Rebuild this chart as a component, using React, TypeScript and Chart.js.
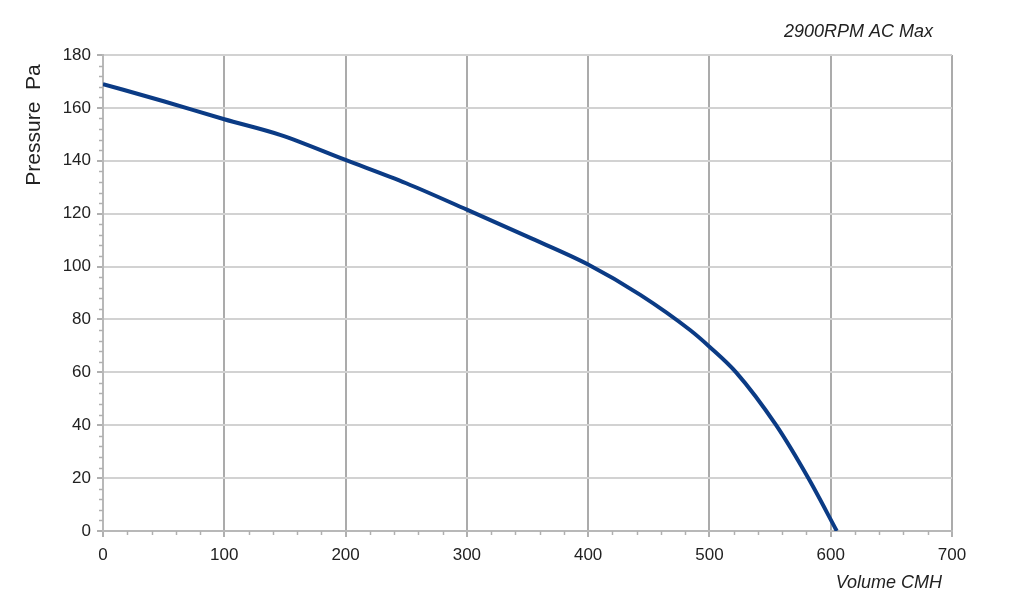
import React, { useEffect, useRef } from "react";
import { Chart, registerables } from "chart.js";

Chart.register(...registerables);

// ---- Data ----
const volumeCMH = [0, 50, 100, 146, 200, 250, 300, 350, 400, 443, 484, 500, 522, 555, 581.5, 605];
const pressurePa = [169, 162.5, 155.7, 149.8, 140.3, 131.5, 121.5, 111.3, 100.8, 89.3, 76, 69.7, 60, 40, 20, 0];
const xTickValues = [0, 100, 200, 300, 400, 500, 600, 700];
const yTickValues = [0, 20, 40, 60, 80, 100, 120, 140, 160, 180];
const chartTitle = "2900RPM AC Max";
const xAxisTitle = "Volume CMH";
const yAxisTitle = "Pressure  Pa";

const FONT = "'Liberation Sans', Arial, sans-serif";

const decorPlugin = {
  id: "decor",
  afterDraw(chart: any) {
    const { ctx, chartArea, scales } = chart;
    const xs = scales.x;
    const ys = scales.y;
    ctx.save();
    // minor ticks
    ctx.strokeStyle = "#b0b0b0";
    ctx.lineWidth = 1.5;
    const xMin = xTickValues[0];
    const xMax = xTickValues[xTickValues.length - 1];
    const xStep = (xTickValues[1] - xTickValues[0]) / 5;
    for (let v = xMin; v <= xMax + 1e-6; v += xStep) {
      if (xTickValues.includes(Math.round(v))) continue;
      const px = Math.round(xs.getPixelForValue(v)) + 0.5;
      ctx.beginPath();
      ctx.moveTo(px, chartArea.bottom);
      ctx.lineTo(px, chartArea.bottom + 4);
      ctx.stroke();
    }
    const yMin = yTickValues[0];
    const yMax = yTickValues[yTickValues.length - 1];
    const yStep = (yTickValues[1] - yTickValues[0]) / 5;
    for (let v = yMin; v <= yMax + 1e-6; v += yStep) {
      if (yTickValues.includes(Math.round(v))) continue;
      const py = Math.round(ys.getPixelForValue(v)) + 0.5;
      ctx.beginPath();
      ctx.moveTo(chartArea.left - 4, py);
      ctx.lineTo(chartArea.left, py);
      ctx.stroke();
    }
    // titles
    ctx.fillStyle = "#222";
    ctx.font = `italic 18px ${FONT}`;
    ctx.textAlign = "right";
    ctx.textBaseline = "middle";
    ctx.fillText(chartTitle, chartArea.right - 19, chartArea.top - 23);
    ctx.fillText(xAxisTitle, chartArea.right - 10, chartArea.bottom + 52);
    ctx.translate(34, chartArea.top + 70);
    ctx.rotate(-Math.PI / 2);
    ctx.textAlign = "center";
    ctx.font = `21px ${FONT}`;
    ctx.fillText(yAxisTitle, 0, 0);
    ctx.restore();
  },
};

export default function App() {
  const canvasRef = useRef<HTMLCanvasElement | null>(null);

  useEffect(() => {
    if (!canvasRef.current) return;
    const points = volumeCMH.map((x, i) => ({ x, y: pressurePa[i] }));
    const chart = new Chart(canvasRef.current, {
      type: "line",
      data: {
        datasets: [
          {
            data: points,
            borderColor: "#0b3b85",
            borderWidth: 4,
            pointRadius: 0,
            cubicInterpolationMode: "monotone",
            fill: false,
          },
        ],
      },
      options: {
        animation: false,
        responsive: true,
        maintainAspectRatio: false,
        layout: { padding: { top: 55, right: 72, bottom: 0, left: 0 } },
        plugins: {
          legend: { display: false },
          tooltip: { enabled: false },
          title: { display: false },
        },
        scales: {
          x: {
            type: "linear",
            min: xTickValues[0],
            max: xTickValues[xTickValues.length - 1],
            afterBuildTicks: (scale: any) => {
              scale.ticks = xTickValues.map((v) => ({ value: v }));
            },
            afterFit: (scale: any) => {
              scale.height = 84;
            },
            ticks: {
              color: "#222",
              font: { family: FONT, size: 17 },
              padding: 8,
              maxRotation: 0,
            },
            grid: {
              color: "#ababab",
              lineWidth: 2,
              tickLength: 6,
              tickColor: "#b0b0b0",
              tickWidth: 2,
            },
            border: { color: "#b8b8b8", width: 2 },
          },
          y: {
            type: "linear",
            min: yTickValues[0],
            max: yTickValues[yTickValues.length - 1],
            afterBuildTicks: (scale: any) => {
              scale.ticks = yTickValues.map((v) => ({ value: v }));
            },
            afterFit: (scale: any) => {
              scale.width = 103;
            },
            ticks: {
              color: "#222",
              font: { family: FONT, size: 17 },
              padding: 6,
            },
            grid: {
              color: "#d2d2d2",
              lineWidth: 2,
              tickLength: 6,
              tickColor: "#b0b0b0",
              tickWidth: 2,
            },
            border: { color: "#b8b8b8", width: 2 },
          },
        },
      },
      plugins: [decorPlugin],
    });
    return () => chart.destroy();
  }, []);

  return (
    <div style={{ position: "fixed", left: 0, top: 0, width: 1024, height: 615, background: "#fff" }}>
      <canvas ref={canvasRef} />
    </div>
  );
}
